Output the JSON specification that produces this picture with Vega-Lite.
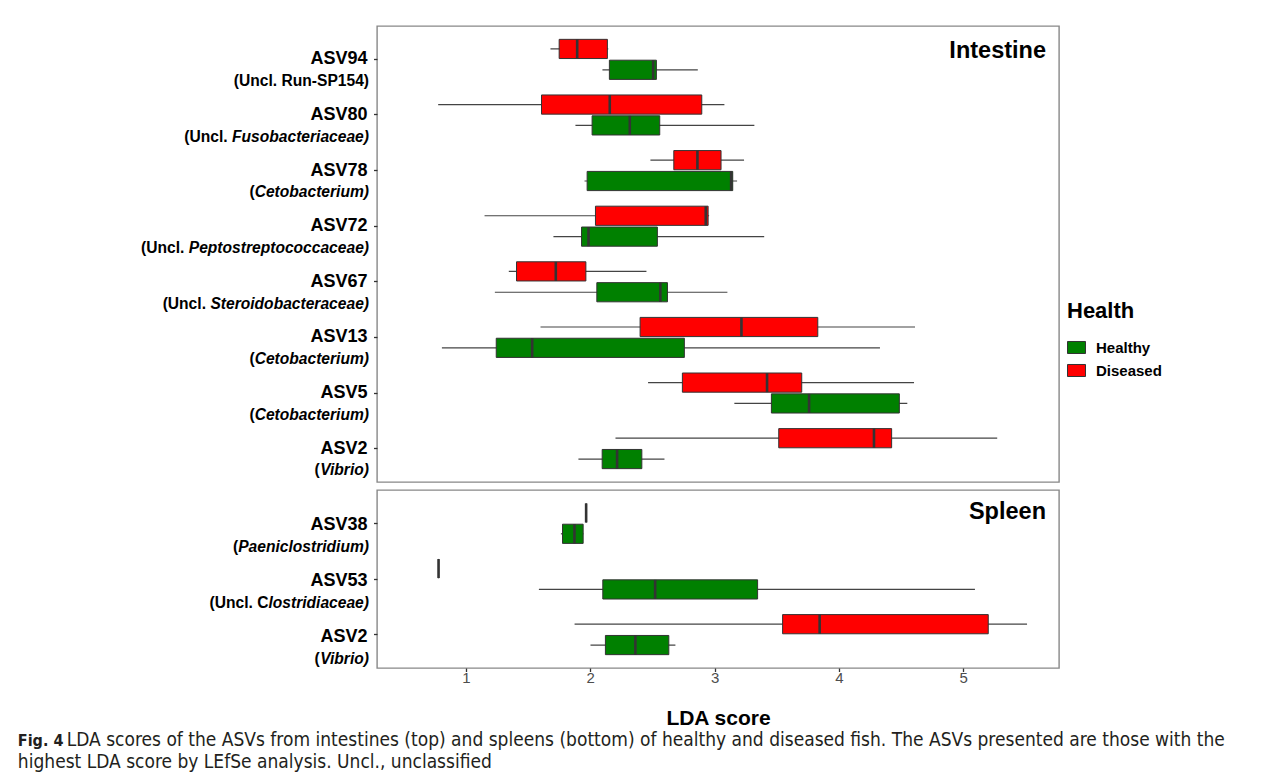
{
  "$schema": "https://vega.github.io/schema/vega-lite/v6.json",
  "padding": {"left": 17, "top": 25, "right": 5, "bottom": 5},
  "background": "white",
  "config": {
    "font": "Liberation Sans",
    "view": {"stroke": "#888888", "strokeWidth": 1.4},
    "axis": {"grid": false}
  },
  "title": {
    "text": "Fig. 4",
    "subtitle": ["\u200b\u00a0\u00a0\u00a0\u00a0\u00a0\u00a0\u00a0\u00a0\u00a0LDA scores of the ASVs from intestines (top) and spleens (bottom) of healthy and diseased fish. The ASVs presented are those with the", "highest LDA score by LEfSe analysis. Uncl., unclassified"],
    "orient": "bottom",
    "anchor": "start",
    "frame": "bounds",
    "dx": -122,
    "offset": 4,
    "font": "Liberation Sans Narrow, DejaVu Sans Condensed, sans-serif",
    "fontSize": 16,
    "fontWeight": "bold",
    "color": "#231f20",
    "subtitleFont": "Liberation Sans Narrow, DejaVu Sans Condensed, sans-serif",
    "subtitleFontSize": 19,
    "subtitleFontWeight": "normal",
    "subtitleColor": "#231f20",
    "subtitleLineHeight": 22,
    "subtitlePadding": -18.4
  },
  "datasets": {
    "boxes": [
      {"tissue": "Intestine", "asv": "ASV94", "health": "Diseased", "lo": 1.680, "q1": 1.750, "med": 1.895, "q3": 2.138, "hi": 2.145},
      {"tissue": "Intestine", "asv": "ASV94", "health": "Healthy", "lo": 2.098, "q1": 2.154, "med": 2.506, "q3": 2.532, "hi": 2.865},
      {"tissue": "Intestine", "asv": "ASV80", "health": "Diseased", "lo": 0.777, "q1": 1.608, "med": 2.157, "q3": 2.897, "hi": 3.079},
      {"tissue": "Intestine", "asv": "ASV80", "health": "Healthy", "lo": 1.881, "q1": 2.015, "med": 2.318, "q3": 2.559, "hi": 3.320},
      {"tissue": "Intestine", "asv": "ASV78", "health": "Diseased", "lo": 2.484, "q1": 2.672, "med": 2.862, "q3": 3.052, "hi": 3.237},
      {"tissue": "Intestine", "asv": "ASV78", "health": "Healthy", "lo": 1.954, "q1": 1.975, "med": 3.133, "q3": 3.146, "hi": 3.181},
      {"tissue": "Intestine", "asv": "ASV72", "health": "Diseased", "lo": 1.150, "q1": 2.042, "med": 2.929, "q3": 2.948, "hi": 2.956},
      {"tissue": "Intestine", "asv": "ASV72", "health": "Healthy", "lo": 1.704, "q1": 1.930, "med": 1.986, "q3": 2.540, "hi": 3.399},
      {"tissue": "Intestine", "asv": "ASV67", "health": "Diseased", "lo": 1.345, "q1": 1.407, "med": 1.723, "q3": 1.965, "hi": 2.452},
      {"tissue": "Intestine", "asv": "ASV67", "health": "Healthy", "lo": 1.233, "q1": 2.053, "med": 2.564, "q3": 2.621, "hi": 3.103},
      {"tissue": "Intestine", "asv": "ASV13", "health": "Diseased", "lo": 1.600, "q1": 2.401, "med": 3.216, "q3": 3.830, "hi": 4.612},
      {"tissue": "Intestine", "asv": "ASV13", "health": "Healthy", "lo": 0.807, "q1": 1.244, "med": 1.533, "q3": 2.757, "hi": 4.330},
      {"tissue": "Intestine", "asv": "ASV5", "health": "Diseased", "lo": 2.465, "q1": 2.741, "med": 3.422, "q3": 3.701, "hi": 4.604},
      {"tissue": "Intestine", "asv": "ASV5", "health": "Healthy", "lo": 3.159, "q1": 3.457, "med": 3.760, "q3": 4.486, "hi": 4.550},
      {"tissue": "Intestine", "asv": "ASV2", "health": "Diseased", "lo": 2.203, "q1": 3.516, "med": 4.282, "q3": 4.424, "hi": 5.273},
      {"tissue": "Intestine", "asv": "ASV2", "health": "Healthy", "lo": 1.905, "q1": 2.096, "med": 2.216, "q3": 2.415, "hi": 2.597},
      {"tissue": "Spleen", "asv": "ASV38", "health": "Diseased", "lo": 1.967, "q1": 1.967, "med": 1.967, "q3": 1.967, "hi": 1.967},
      {"tissue": "Spleen", "asv": "ASV38", "health": "Healthy", "lo": 1.764, "q1": 1.777, "med": 1.873, "q3": 1.943, "hi": 1.945},
      {"tissue": "Spleen", "asv": "ASV53", "health": "Diseased", "lo": 0.780, "q1": 0.780, "med": 0.780, "q3": 0.780, "hi": 0.780},
      {"tissue": "Spleen", "asv": "ASV53", "health": "Healthy", "lo": 1.587, "q1": 2.101, "med": 2.522, "q3": 3.346, "hi": 5.094},
      {"tissue": "Spleen", "asv": "ASV2", "health": "Diseased", "lo": 1.874, "q1": 3.547, "med": 3.845, "q3": 5.201, "hi": 5.513},
      {"tissue": "Spleen", "asv": "ASV2", "health": "Healthy", "lo": 2.002, "q1": 2.122, "med": 2.363, "q3": 2.632, "hi": 2.685}
    ]
  },
  "data": {"name": "boxes"},
  "spacing": 6,
  "resolve": {"scale": {"x": "independent", "y": "independent", "yOffset": "independent", "fill": "shared"}},
  "vconcat": [
    {
      "width": 682,
      "height": 456,
      "title": {"text": "Intestine", "orient": "top", "anchor": "end", "frame": "group", "offset": -55, "dx": -13, "baseline": "alphabetic", "fontSize": 23.5, "fontWeight": "bold", "color": "#000000"},
      "transform": [{"filter": "datum.tissue == 'Intestine'"}],
      "resolve": {"axis": {"y": "independent"}},
      "layer": [
        {
          "mark": {"type": "rule", "color": "#444444", "strokeWidth": 1.2},
          "encoding": {
            "x": {"field": "lo", "type": "quantitative", "scale": {"domain": [0.285, 5.77], "nice": false, "zero": false}, "axis": null},
            "x2": {"field": "hi"},
            "y": {
              "field": "asv", "type": "nominal",
              "scale": {"domain": ["ASV94", "ASV80", "ASV78", "ASV72", "ASV67", "ASV13", "ASV5", "ASV2"], "paddingInner": 0.25, "paddingOuter": 0.225},
              "axis": {"orient": "left", "title": null, "domain": false, "ticks": true, "tickSize": 3.5, "tickColor": "#333333", "tickWidth": 1.3, "labelFontSize": 18, "labelFontWeight": "bold", "labelColor": "#000000", "labelPadding": 6.5, "labelLimit": 400}
            },
            "yOffset": {"field": "health", "type": "nominal", "scale": {"domain": ["Diseased", "Healthy"], "paddingInner": 0.08, "paddingOuter": 0.04}}
          }
        },
        {
          "mark": {"type": "bar", "stroke": "#333333", "strokeWidth": 1},
          "encoding": {
            "x": {"field": "q1", "type": "quantitative", "scale": {"domain": [0.285, 5.77], "nice": false, "zero": false}, "axis": null},
            "x2": {"field": "q3"},
            "y": {
              "field": "asv", "type": "nominal",
              "scale": {"domain": ["ASV94", "ASV80", "ASV78", "ASV72", "ASV67", "ASV13", "ASV5", "ASV2"], "paddingInner": 0.25, "paddingOuter": 0.225},
              "axis": {
                "orient": "left", "title": null, "domain": false, "ticks": true, "tickSize": 3.5, "tickOpacity": 0,
                "labelFontSize": 15.6, "labelFontWeight": "bold", "labelColor": "#000000", "labelOffset": 21.7, "labelLimit": 400,
                "labelExpr": "['(Uncl. Run-SP154)','(Uncl.\u00a0\u200b','(','(Uncl.\u00a0\u200b','(Uncl.\u00a0\u200b','(','(','('][indexof(['ASV94','ASV80','ASV78','ASV72','ASV67','ASV13','ASV5','ASV2'], datum.value)]",
                "labelPadding": {
                  "condition": [
                    {"test": "datum.value == 'ASV80'", "value": 142},
                    {"test": "datum.value == 'ASV78' || datum.value == 'ASV13' || datum.value == 'ASV5'", "value": 119.4},
                    {"test": "datum.value == 'ASV72'", "value": 185.3},
                    {"test": "datum.value == 'ASV67'", "value": 163.7},
                    {"test": "datum.value == 'ASV2'", "value": 54.4}
                  ],
                  "value": 5
                }
              }
            },
            "yOffset": {"field": "health", "type": "nominal", "scale": {"domain": ["Diseased", "Healthy"], "paddingInner": 0.08, "paddingOuter": 0.04}},
            "fill": {
              "field": "health", "type": "nominal",
              "scale": {"domain": ["Healthy", "Diseased"], "range": ["#008000", "#ff0000"]},
              "legend": {"title": "Health", "orient": "none", "legendX": 690, "legendY": 275, "padding": 0, "titleFontSize": 22, "titleFontWeight": "bold", "titleColor": "#000000", "titlePadding": 15, "labelFontSize": 15, "labelFontWeight": "bold", "labelColor": "#000000", "labelOffset": 10, "symbolType": "M-1,-0.667H1V0.667H-1Z", "symbolSize": 324, "symbolStrokeColor": "#333333", "symbolStrokeWidth": 1, "symbolOpacity": 1, "rowPadding": 5}
            }
          }
        },
        {
          "mark": {"type": "tick", "orient": "vertical", "thickness": 2.6, "size": 19, "color": "#333333", "opacity": 1},
          "encoding": {
            "x": {"field": "med", "type": "quantitative", "scale": {"domain": [0.285, 5.77], "nice": false, "zero": false}, "axis": null},
            "y": {
              "field": "asv", "type": "nominal",
              "scale": {"domain": ["ASV94", "ASV80", "ASV78", "ASV72", "ASV67", "ASV13", "ASV5", "ASV2"], "paddingInner": 0.25, "paddingOuter": 0.225},
              "axis": {
                "orient": "left", "title": null, "domain": false, "ticks": true, "tickSize": 3.5, "tickOpacity": 0,
                "labelFontSize": 15.6, "labelFontWeight": "bold", "labelFontStyle": "italic", "labelColor": "#000000", "labelPadding": 5, "labelOffset": 21.7, "labelLimit": 400,
                "labelExpr": "['','Fusobacteriaceae)','Cetobacterium)','Peptostreptococcaceae)','Steroidobacteraceae)','Cetobacterium)','Cetobacterium)','Vibrio)'][indexof(['ASV94','ASV80','ASV78','ASV72','ASV67','ASV13','ASV5','ASV2'], datum.value)]"
              }
            },
            "yOffset": {"field": "health", "type": "nominal", "scale": {"domain": ["Diseased", "Healthy"], "paddingInner": 0.08, "paddingOuter": 0.04}}
          }
        }
      ]
    },
    {
      "width": 682,
      "height": 178,
      "title": {"text": "Spleen", "orient": "top", "anchor": "end", "frame": "group", "offset": -52, "dx": -13, "baseline": "alphabetic", "fontSize": 23.5, "fontWeight": "bold", "color": "#000000"},
      "transform": [{"filter": "datum.tissue == 'Spleen'"}],
      "resolve": {"axis": {"y": "independent"}},
      "layer": [
        {
          "mark": {"type": "rule", "color": "#444444", "strokeWidth": 1.2},
          "encoding": {
            "x": {
              "field": "lo", "type": "quantitative",
              "scale": {"domain": [0.285, 5.77], "nice": false, "zero": false},
              "axis": {"values": [1, 2, 3, 4, 5], "format": "d", "title": "LDA score", "domain": false, "tickSize": 3.5, "tickColor": "#333333", "tickWidth": 1.3, "labelFontSize": 15, "labelColor": "#4d4d4d", "labelPadding": -0.8, "titleFontSize": 21, "titleFontWeight": "bold", "titleColor": "#000000", "titlePadding": 22}
            },
            "x2": {"field": "hi"},
            "y": {
              "field": "asv", "type": "nominal",
              "scale": {"domain": ["ASV38", "ASV53", "ASV2"], "paddingInner": 0.25, "paddingOuter": 0.225},
              "axis": {"orient": "left", "title": null, "domain": false, "ticks": true, "tickSize": 3.5, "tickColor": "#333333", "tickWidth": 1.3, "labelFontSize": 18, "labelFontWeight": "bold", "labelColor": "#000000", "labelPadding": 6.5, "labelOffset": 2, "labelLimit": 400}
            },
            "yOffset": {"field": "health", "type": "nominal", "scale": {"domain": ["Diseased", "Healthy"], "paddingInner": 0.08, "paddingOuter": 0.04}}
          }
        },
        {
          "mark": {"type": "bar", "stroke": "#333333", "strokeWidth": 1},
          "encoding": {
            "x": {"field": "q1", "type": "quantitative", "scale": {"domain": [0.285, 5.77], "nice": false, "zero": false}},
            "x2": {"field": "q3"},
            "y": {
              "field": "asv", "type": "nominal",
              "scale": {"domain": ["ASV38", "ASV53", "ASV2"], "paddingInner": 0.25, "paddingOuter": 0.225},
              "axis": {
                "orient": "left", "title": null, "domain": false, "ticks": true, "tickSize": 3.5, "tickOpacity": 0,
                "labelFontSize": 15.6, "labelFontWeight": "bold", "labelColor": "#000000", "labelOffset": 24, "labelLimit": 400,
                "labelExpr": "['(','(Uncl. C','('][indexof(['ASV38','ASV53','ASV2'], datum.value)]",
                "labelPadding": {
                  "condition": [
                    {"test": "datum.value == 'ASV38'", "value": 135.9},
                    {"test": "datum.value == 'ASV53'", "value": 105.6}
                  ],
                  "value": 54.4
                }
              }
            },
            "yOffset": {"field": "health", "type": "nominal", "scale": {"domain": ["Diseased", "Healthy"], "paddingInner": 0.08, "paddingOuter": 0.04}},
            "fill": {"field": "health", "type": "nominal", "scale": {"domain": ["Healthy", "Diseased"], "range": ["#008000", "#ff0000"]}}
          }
        },
        {
          "mark": {"type": "tick", "orient": "vertical", "thickness": 2.6, "size": 19, "color": "#333333", "opacity": 1},
          "encoding": {
            "x": {"field": "med", "type": "quantitative", "scale": {"domain": [0.285, 5.77], "nice": false, "zero": false}},
            "y": {
              "field": "asv", "type": "nominal",
              "scale": {"domain": ["ASV38", "ASV53", "ASV2"], "paddingInner": 0.25, "paddingOuter": 0.225},
              "axis": {
                "orient": "left", "title": null, "domain": false, "ticks": true, "tickSize": 3.5, "tickOpacity": 0,
                "labelFontSize": 15.6, "labelFontWeight": "bold", "labelFontStyle": "italic", "labelColor": "#000000", "labelPadding": 5, "labelOffset": 24, "labelLimit": 400,
                "labelExpr": "['Paeniclostridium)','lostridiaceae)','Vibrio)'][indexof(['ASV38','ASV53','ASV2'], datum.value)]"
              }
            },
            "yOffset": {"field": "health", "type": "nominal", "scale": {"domain": ["Diseased", "Healthy"], "paddingInner": 0.08, "paddingOuter": 0.04}}
          }
        }
      ]
    }
  ]
}
